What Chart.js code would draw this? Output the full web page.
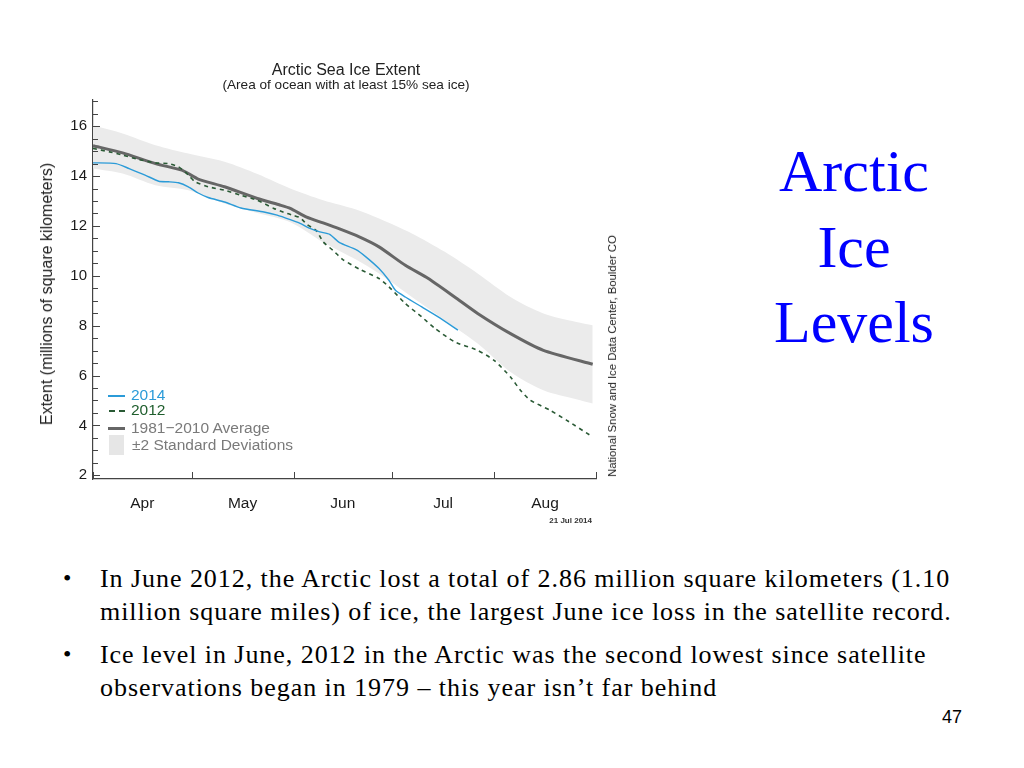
<!DOCTYPE html>
<html><head><meta charset="utf-8">
<script src="https://cdn.jsdelivr.net/npm/chart.js@4.4.1/dist/chart.umd.min.js"></script>
<style>
html,body{margin:0;padding:0;background:#fff;}
body{width:1024px;height:768px;position:relative;overflow:hidden;font-family:"Liberation Sans",Arial,sans-serif;}
#chartBox{position:absolute;left:0;top:0;width:700px;height:560px;}
.abs{position:absolute;white-space:nowrap;}
.ctitle{left:346px;transform:translateX(-50%);color:#222;}
.leg{font-size:15.5px;line-height:18px;}
.sw{position:absolute;}
#side{position:absolute;left:754px;width:200px;top:134px;text-align:center;font-family:"Liberation Serif","Times New Roman",serif;font-size:60px;line-height:75.5px;color:#0000ff;}
#bullets{position:absolute;left:63px;top:562px;width:960px;font-family:"Liberation Serif","Times New Roman",serif;font-size:26px;letter-spacing:0.95px;line-height:33px;color:#000;white-space:nowrap;}
#bullets p{margin:0 0 10px 0;padding-left:37px;position:relative;}
#bullets p:before{content:"•";position:absolute;left:0;top:0;font-size:24px;}
</style></head>
<body>
<div id="chartBox"><canvas id="c" width="700" height="560"></canvas></div>

<div class="abs ctitle" style="top:61px;font-size:16px;">Arctic Sea Ice Extent</div>
<div class="abs ctitle" style="top:77px;font-size:13.6px;">(Area of ocean with at least 15% sea ice)</div>
<div class="abs" style="left:47px;top:294px;transform:translate(-50%,-50%) rotate(-90deg);font-size:16px;color:#222;">Extent (millions of square kilometers)</div>
<div class="abs" style="left:612px;top:356px;transform:translate(-50%,-50%) rotate(-90deg);font-size:11.3px;color:#222;">National Snow and Ice Data Center, Boulder CO</div>
<div class="abs" style="left:592px;top:516px;transform:translateX(-100%);font-size:8px;font-weight:bold;color:#333;">21 Jul 2014</div>

<!-- legend -->
<div class="sw" style="left:108px;top:395px;width:17px;height:1.5px;background:#2b9bd8;"></div>
<div class="abs leg" style="left:131px;top:386px;color:#2b9bd8;">2014</div>
<div class="sw" style="left:109px;top:410px;width:6px;height:1.6px;background:#2a5a35;"></div>
<div class="sw" style="left:119px;top:410px;width:6px;height:1.6px;background:#2a5a35;"></div>
<div class="abs leg" style="left:131px;top:401px;color:#1f5e2d;">2012</div>
<div class="sw" style="left:108px;top:426.5px;width:17px;height:3px;background:#666;"></div>
<div class="abs leg" style="left:131px;top:419px;color:#7a7a7a;">1981−2010 Average</div>
<div class="sw" style="left:109px;top:435px;width:15px;height:20px;background:#e6e6e6;"></div>
<div class="abs leg" style="left:132px;top:436px;color:#7a7a7a;">±2 Standard Deviations</div>

<div id="side">Arctic<br>Ice<br>Levels</div>
<div id="bullets">
<p>In June 2012, the Arctic lost a total of 2.86 million square kilometers (1.10<br>million square miles) of ice, the largest June ice loss in the satellite record.</p>
<p>Ice level in June, 2012 in the Arctic was the second lowest since satellite<br>observations began in 1979 – this year isn’t far behind</p>
</div>
<div class="abs" style="left:942px;top:707px;font-size:18px;color:#000;">47</div>

<script>
// x = days since 1 April
const monthLabels = ['Apr','May','Jun','Jul','Aug'];
const monthMidDays = [15, 45.5, 76, 106.5, 137.5];
const monthStartDays = [0, 30, 61, 91, 122, 153];
const yTickLabels = [2,4,6,8,10,12,14,16];

const bandDays  = [0, 9, 19, 29, 40, 50, 60, 70, 80, 87, 97, 107, 117, 127, 137, 147, 152];
const bandUpper = [16.04, 15.71, 15.24, 14.90, 14.57, 14.08, 13.50, 13.03, 12.66, 12.30, 11.70, 10.96, 10.09, 9.15, 8.49, 8.15, 8.02];
const bandLower = [14.30, 14.10, 13.63, 13.43, 12.90, 12.52, 12.15, 11.35, 10.65, 10.09, 9.15, 8.22, 7.28, 6.14, 5.41, 5.05, 4.88];

const avgDays   = [0, 9, 19, 27, 29, 32, 40, 50, 57, 60, 65, 70, 75, 81, 87, 95, 102, 110, 117, 127, 137, 152];
const avgValues = [15.22, 14.93, 14.50, 14.24, 14.10, 13.88, 13.57, 13.10, 12.83, 12.70, 12.35, 12.12, 11.88, 11.56, 11.16, 10.42, 9.89, 9.15, 8.49, 7.68, 7.01, 6.45];

const y2014Days   = [0, 7, 11, 16, 20, 23, 26, 29, 32, 35, 40, 45, 52, 56, 60, 63, 66, 69, 72, 75, 80, 83, 87, 90, 92, 95, 100, 105, 111];
const y2014Values = [14.53, 14.50, 14.30, 14.03, 13.79, 13.77, 13.73, 13.57, 13.32, 13.14, 12.96, 12.72, 12.56, 12.43, 12.25, 12.10, 11.90, 11.76, 11.66, 11.33, 11.05, 10.76, 10.29, 9.82, 9.42, 9.15, 8.75, 8.35, 7.82];

const y2012Days   = [0, 5, 9, 14, 19, 23, 26, 28, 29.5, 31, 35, 40, 45, 50, 55, 58, 61, 63, 65, 68, 70, 73, 76, 81, 87, 90, 95, 100, 104, 110, 117, 122, 127, 130, 133, 139, 144, 152];
const y2012Values = [15.11, 14.97, 14.84, 14.66, 14.53, 14.50, 14.37, 14.17, 13.97, 13.77, 13.57, 13.43, 13.23, 13.03, 12.70, 12.55, 12.42, 12.33, 12.07, 11.80, 11.36, 11.02, 10.65, 10.27, 9.89, 9.56, 8.89, 8.35, 7.89, 7.35, 7.01, 6.61, 5.94, 5.41, 5.01, 4.61, 4.21, 3.54];

const pts = (xs, ys) => xs.map((d, i) => ({x: d, y: ys[i]}));

const inwardTicks = {
  id: 'inwardTicks',
  afterDraw(chart) {
    const {ctx, chartArea: a, scales: {x, y}} = chart;
    ctx.save();
    ctx.strokeStyle = '#444';
    ctx.lineWidth = 1;
    ctx.beginPath();
    for (let v = 2; v <= 17; v += 0.5) {
      const py = Math.round(y.getPixelForValue(v)) + 0.5;
      const len = (v % 2 === 0) ? 7 : 5;
      ctx.moveTo(a.left, py); ctx.lineTo(a.left + len, py);
    }
    for (const d of monthStartDays) {
      const px = Math.round(x.getPixelForValue(d)) + 0.5;
      ctx.moveTo(px, a.bottom); ctx.lineTo(px, a.bottom - 7);
    }
    ctx.stroke();
    ctx.restore();
  }
};

new Chart(document.getElementById('c'), {
  type: 'line',
  data: {
    datasets: [
      {label: '2014', data: pts(y2014Days, y2014Values), borderColor: '#2b9bd8', borderWidth: 1.4, pointRadius: 0, tension: 0.2, fill: false, order: 1},
      {label: '2012', data: pts(y2012Days, y2012Values), borderColor: '#2a5a35', borderWidth: 1.6, borderDash: [4, 4], pointRadius: 0, tension: 0.2, fill: false, order: 2},
      {label: '1981-2010 Average', data: pts(avgDays, avgValues), borderColor: '#666666', borderWidth: 3, pointRadius: 0, tension: 0.2, fill: false, order: 3},
      {label: '+2 SD', data: pts(bandDays, bandUpper), borderColor: 'rgba(0,0,0,0)', borderWidth: 0, backgroundColor: '#ebebeb', pointRadius: 0, tension: 0.3, fill: '+1', order: 4},
      {label: '-2 SD', data: pts(bandDays, bandLower), borderColor: 'rgba(0,0,0,0)', borderWidth: 0, pointRadius: 0, tension: 0.3, fill: false, order: 5}
    ]
  },
  options: {
    responsive: false,
    animation: false,
    devicePixelRatio: 1,
    layout: {padding: {left: 0, top: 100, right: 104, bottom: 41}},
    plugins: {legend: {display: false}, tooltip: {enabled: false}, title: {display: false}},
    scales: {
      x: {
        type: 'linear', min: 0, max: 153,
        afterFit: s => { s.height = 40; },
        afterBuildTicks: s => { s.ticks = monthMidDays.map(v => ({value: v})); },
        grid: {display: false, drawTicks: false},
        border: {display: true, color: '#444', width: 1.2},
        ticks: {
          padding: 15, color: '#1a1a1a', maxRotation: 0, autoSkip: false,
          font: {family: '"Liberation Sans", Arial, sans-serif', size: 15.5},
          callback: v => monthLabels[monthMidDays.indexOf(v)]
        }
      },
      y: {
        type: 'linear', min: 1.85, max: 17.05,
        afterFit: s => { s.width = 93; },
        afterBuildTicks: s => { s.ticks = yTickLabels.map(v => ({value: v})); },
        grid: {display: false, drawTicks: false},
        border: {display: true, color: '#444', width: 1.2},
        ticks: {
          padding: 6, color: '#1a1a1a',
          font: {family: '"Liberation Sans", Arial, sans-serif', size: 15},
          callback: v => String(v)
        }
      }
    }
  },
  plugins: [inwardTicks]
});
</script>
</body></html>
